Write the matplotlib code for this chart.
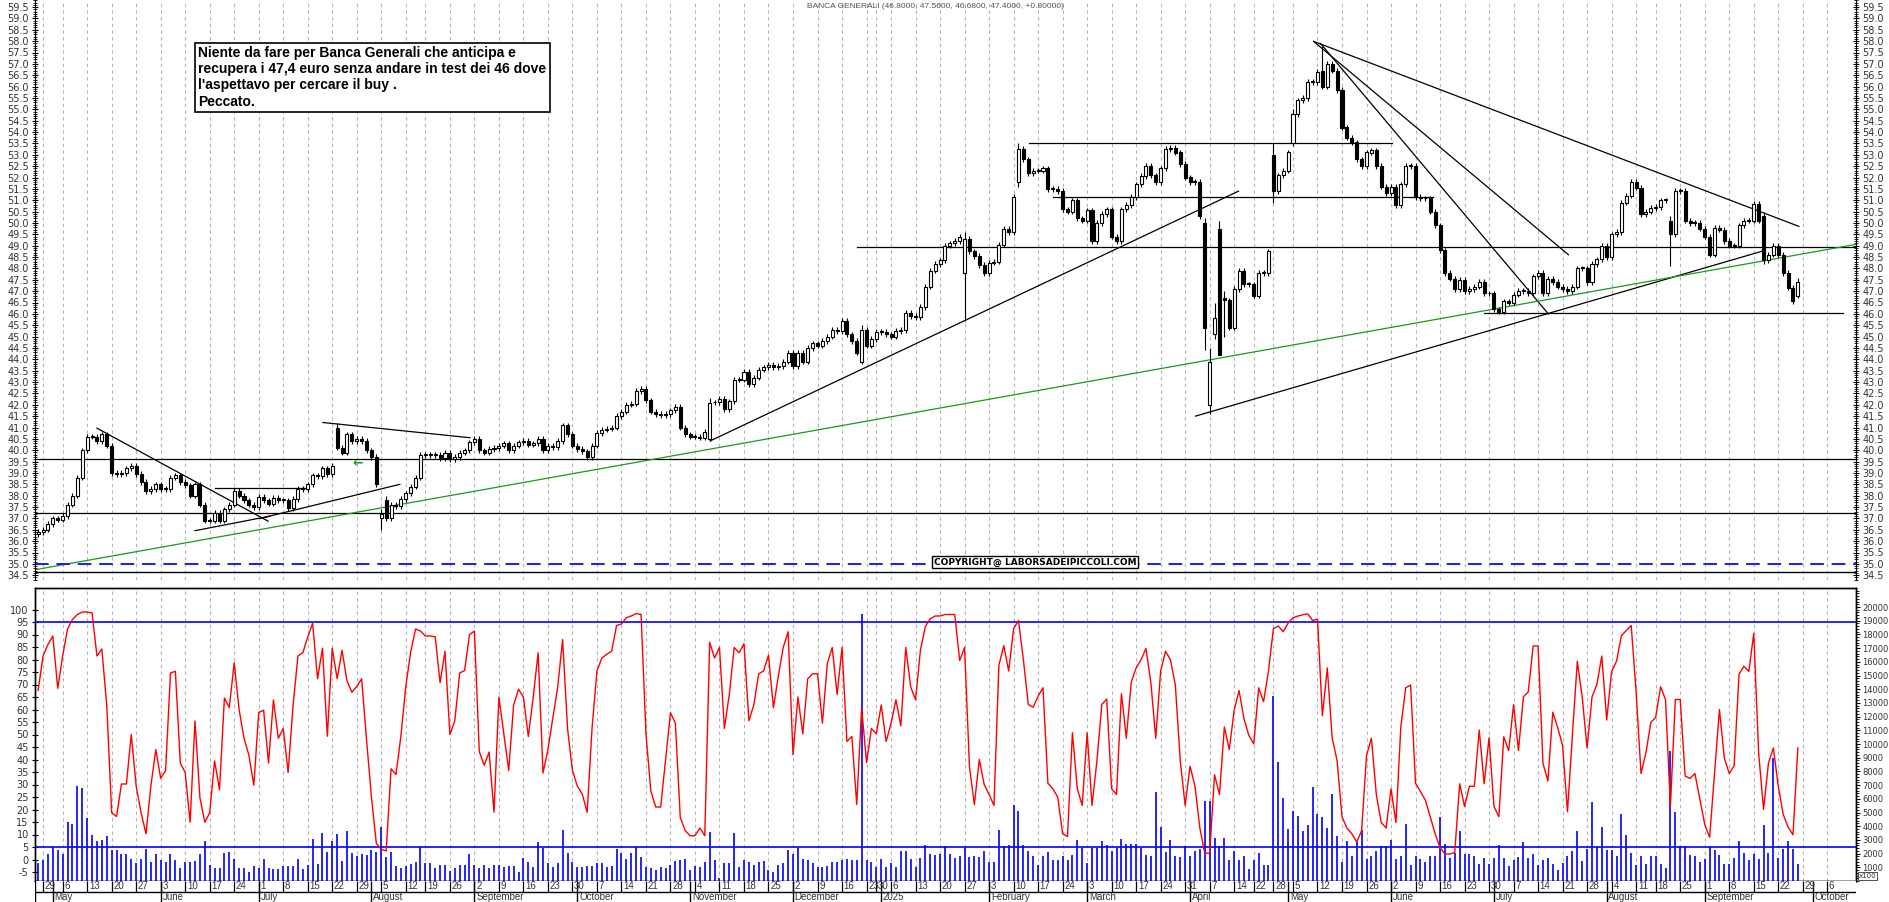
import numpy as np
import pandas as pd
import matplotlib
matplotlib.use("Agg")
import matplotlib.pyplot as plt
from matplotlib.ticker import MultipleLocator, FixedLocator

plt.rcParams["axes.unicode_minus"] = False

# ---------------- DATA ----------------
holidays = ["2024-05-01", "2024-08-15", "2024-12-24", "2024-12-25", "2024-12-26", "2024-12-31",
            "2025-01-01", "2025-04-18", "2025-04-21", "2025-05-01", "2025-08-15"]

close_2024 = [
    36.4,
    36.5, 36.76, 37.0, 36.95,
    37.1, 37.6, 38.0, 38.8, 40.0,
    40.6, 40.6, 40.4, 40.7, 40.2,
    39.0, 38.95, 39.0, 39.2, 39.3,
    38.95, 38.6, 38.2, 38.3, 38.5,
    38.3, 38.3, 38.8, 38.9, 38.6,
    38.45, 38.0, 38.5, 37.6, 36.9,
    36.9, 37.25, 36.9, 37.4, 37.6,
    38.2, 38.0, 37.8, 37.6, 37.5,
    37.95, 37.8, 37.65, 37.9, 37.8,
    37.8, 37.45, 37.85, 38.3, 38.3,
    38.5, 38.9, 38.85, 39.2, 38.95,
    39.3, 40.1, 39.9, 40.7, 40.4,
    40.5, 40.4, 40.0, 39.7, 38.5,
    37.2, 37.0, 37.6, 37.55, 37.85,
    38.1, 38.4, 38.8, 39.8,
    39.8, 39.8, 39.8, 39.65, 39.9,
    39.6, 39.7, 39.9, 40.0, 40.35,
    40.5, 40.0, 39.9, 40.05, 40.1,
    40.2, 40.3, 40.0, 40.2, 40.35,
    40.4, 40.25, 40.3, 40.5, 40.0,
    40.2, 40.15, 40.4, 41.1, 40.7,
    40.2, 40.05, 39.95, 39.7, 40.2,
    40.75, 40.9, 40.95, 41.0, 41.5,
    41.7, 42.0, 42.05, 42.6, 42.7,
    42.2, 41.7, 41.6, 41.55, 41.6,
    41.75, 41.9, 41.0, 40.7, 40.6,
    40.6, 40.55, 40.8, 42.1, 42.1,
    42.25, 41.8, 42.15, 43.1, 43.1,
    43.45, 42.9, 43.2, 43.55, 43.65,
    43.75, 43.65, 43.7, 43.9, 44.3,
    43.7, 44.3, 43.9, 44.5, 44.7,
    44.6, 44.8, 45.0, 45.3, 45.25,
    45.7, 45.1, 44.8, 44.3, 45.3,
    44.6, 44.9,
]
close_2025 = [
    45.2, 45.2, 45.1,
    45.0, 45.25, 45.3, 46.05, 45.9,
    45.85, 46.3, 47.2, 47.9, 48.2,
    48.35, 49.0, 49.1, 49.2, 49.4,
    49.3, 48.75, 48.55, 48.15, 47.8,
    48.26, 48.3, 49.05, 49.75, 49.6,
    51.15, 53.25, 52.8, 52.2, 52.3,
    52.3, 52.4, 51.5, 51.5, 51.4,
    50.6, 50.5, 51.0, 50.2, 50.1,
    50.55, 49.2, 50.0, 50.4, 50.6,
    49.4, 49.2, 50.6, 50.8, 51.15,
    51.7, 52.07, 52.5, 52.1, 51.8,
    52.4, 53.25, 53.3, 53.1, 52.6,
    52.0, 51.8, 51.8, 50.3, 45.4,
    43.9, 45.8, 44.2, 46.6, 45.4,
    47.1, 47.9, 47.3, 47.3,
    46.8, 47.8, 47.8, 48.75,
    51.4, 52.1, 52.3, 53.1,
    54.8, 55.4, 55.5, 56.2, 56.2,
    56.65, 56.0, 57.0, 56.7, 55.85,
    54.2, 53.75, 53.55, 52.8, 52.5,
    53.1, 53.2, 52.5, 51.6, 51.3,
    51.6, 50.8, 51.7, 52.5, 52.5,
    51.15, 51.08, 51.08, 50.5, 49.9,
    48.8, 47.8, 47.55, 47.1, 47.5,
    47.0, 47.1, 47.2, 47.4, 46.9,
    46.9, 46.2, 46.1, 46.55, 46.5,
    46.85, 47.0, 47.0, 46.9, 47.65,
    47.8, 46.9, 47.55, 47.4, 47.2,
    47.1, 47.0, 47.2, 48.0, 48.0,
    47.4, 48.2, 48.4, 49.0, 48.5,
    49.5, 49.6, 50.9, 51.2, 51.8,
    51.55, 50.4, 50.5, 50.65,
    50.7, 51.0, 51.0, 49.5, 51.4,
    51.4, 50.1, 50.0, 50.0, 49.75,
    49.4, 48.6, 49.8, 49.7, 49.2,
    49.0, 49.0, 49.9, 50.1, 50.1,
    50.85, 50.1, 48.35, 48.6, 49.0,
    48.6, 47.8, 47.15, 46.55, 47.4,
]
# candles whose open / high / low differ clearly from the default shape
candle_overrides = {  # date: (open, high, low)
    "2024-07-23": (41.0, 41.2, 40.0),
    "2024-08-05": (37.0, 37.4, 36.5),
    "2024-08-06": (37.8, 38.0, 36.9),
    "2024-11-07": (40.5, 42.3, 40.4),
    "2024-12-20": (43.9, 45.5, 43.8),
    "2025-01-27": (47.8, 49.6, 45.7),
    "2025-02-11": (51.8, 53.5, 51.6),
    "2025-04-04": (50.0, 50.2, 44.4),
    "2025-04-07": (42.0, 44.5, 41.6),
    "2025-04-08": (45.1, 46.5, 44.9),
    "2025-04-09": (49.75, 50.1, 46.4),
    "2025-04-10": (46.7, 47.0, 45.0),
    "2025-04-28": (53.0, 53.5, 50.9),
    "2025-05-05": (53.5, 55.0, 53.4),
    "2025-05-13": (56.7, 57.8, 55.9),
    "2025-08-21": (50.1, 50.3, 48.1),
    "2025-09-17": (50.3, 50.5, 48.2),
    "2025-09-26": (46.8, 47.56, 46.68),
}

osc_2024 = [
    67.7,
    81.4, 86, 89.4, 68.4,
    81.4, 92.2, 96, 98, 99,
    99, 98.6, 81.4, 84.2, 61.5,
    18.7, 17.2, 30.2, 30.2, 50,
    29.4, 18.7, 10.3, 29.4, 44,
    32.5, 35.5, 74.6, 75.3, 38.6,
    34.8, 14.9, 55.4, 24.8, 14.9,
    18.7, 39.4, 27.9, 64.6, 60.8,
    78.7, 60, 48.5, 41.7, 29.7,
    58.8, 59.7, 38.6, 63.8, 48.5,
    52.4, 34.8, 61.5, 81.4, 82.7,
    89, 94.5, 72.3, 84.5, 49.3,
    84.5, 72.3, 83.7, 71.5, 66.9,
    69.2, 72.3, 47.8, 24.8, 6.4,
    4.1, 3.4, 36.3, 34, 49.3,
    69.2, 83, 92.2, 91.4,
    89.4, 89.4, 89.1, 70.7, 83.3,
    50, 55.4, 74.6, 75.6, 89.9,
    91.4, 43.2, 37.7, 43, 18.9,
    65, 50.3, 35.6, 61.8, 68.1,
    65, 49.2, 65, 82.7, 34.6,
    44, 56.6, 69.1, 88, 52.4,
    35.6, 29.4, 26.2, 18.9, 52.4,
    75.4, 80.6, 82.1, 83.3, 93.6,
    94.2, 96.7, 97.4, 98.4, 98,
    50.3, 27.3, 21, 21, 39.8,
    58.7, 54.5, 16.8, 11.6, 9.5,
    9.5, 12.6, 9.5, 86.9, 80.6,
    84.8, 52.4, 66, 84.8, 82.7,
    86.3, 55.5, 61.8, 74.3, 75.4,
    81.7, 60.7, 73.3, 84.8, 91.1,
    41.9, 65, 50.3, 72.3, 74.3,
    74.3, 54.5, 78.5, 84.8, 66,
    84.8, 47.2, 49.2, 22, 60.7,
    38.8, 52.4,
]
osc_2025 = [
    50.3, 61.8, 47.2,
    54.5, 63.9, 53.4, 84.8, 69.1,
    63.9, 83.8, 93.2, 96.3, 97.4,
    97.4, 98, 98, 98, 79.6,
    84.8, 37, 22, 40, 30,
    26, 21.6, 77.7, 85.5, 75.4,
    92.3, 95.6, 79.9, 62, 60.9,
    65.3, 68.7, 30.5, 28.3, 25,
    10.3, 9.2, 50.7, 28.3, 21.6,
    50.7, 21.6, 39.5, 62, 64.2,
    28.3, 26, 66.4, 48.5, 70.9,
    76.6, 79.9, 84.4, 70.9, 48.5,
    75.4, 83.3, 79.9, 69.8, 39.5,
    21.6, 37.3, 29.4, 12.6, 2.5,
    2.5, 33.9, 26, 53, 44,
    59.7, 67.6, 56.3, 49.6,
    46.2, 68.7, 63.1, 75.4,
    92.3, 93.4, 91.1, 94.5,
    96.7, 97.4, 97.9, 98.3, 95.6,
    96.1, 57.5, 76.6, 48.5, 39.5,
    17.1, 12.6, 10.3, 7, 11.5,
    41.7, 48.5, 26, 14.8, 12.6,
    28.3, 14.8, 53, 68.7, 69.8,
    30.5, 27.2, 23.8, 17.1, 10.3,
    4.7, 2.2, 2.2, 2.8, 30.3,
    21.2, 29.3, 29.3, 51.8, 30.3,
    48.7, 21.2, 17.1, 49.1, 43.6,
    61.9, 43.6, 65, 67.1, 85.4,
    85.4, 38.5, 31.4, 58.9, 52.8,
    45.6, 19.1, 49.7, 79.3, 65,
    44.6, 65, 70.1, 81.4, 55.8,
    75.2, 79.3, 89.5, 91.6, 93.6,
    67.1, 34.4, 42.6, 54.8,
    56.9, 69.1, 64, 21.2, 64,
    64, 33.4, 32.4, 34.4, 24.2,
    14, 8.9, 34.4, 60, 40.5,
    34.4, 37.5, 74.2, 77.3, 75.2,
    90.5, 42.6, 20.1, 38.5, 44.6,
    29.3, 18.1, 13, 9.9, 44.6,
]

vol_2024 = [
    1340,
    1530, 1950, 2500, 2230,
    2000, 4300, 4130, 6900, 6800,
    4600, 3350, 2930, 3000, 3260,
    2230, 2230, 2000, 1950, 1620,
    1340, 1620, 2370, 1400, 1950,
    1530, 1400, 2000, 1530, 980,
    1400, 1400, 1450, 1950, 2930,
    1170, 980, 980, 2040, 2090,
    1620, 980, 980, 640, 1120,
    980, 1620, 980, 890, 890,
    1060, 1060, 1060, 1620, 840,
    1200, 3070, 1260, 3490, 2150,
    2930, 3400, 1480, 3680, 2040,
    1810, 2000, 1900, 2230, 2090,
    3960, 1730, 2150, 1060, 980,
    1060, 1260, 1400, 2500,
    1310, 1340, 980, 1170, 1170,
    700, 920, 1170, 1170, 1950,
    1170, 980, 1170, 980, 1200,
    1200, 1010, 1070, 1130, 630,
    1660, 1390, 1010, 2850, 2430,
    1320, 1010, 1320, 3690, 2080,
    1390, 1010, 1010, 1130, 1130,
    1320, 1320, 1010, 1130, 2350,
    2080, 1590, 2080, 2460, 1780,
    1010, 940, 820, 1010, 940,
    1200, 1470, 1510, 1590, 820,
    1130, 1010, 1390, 3610, 1510,
    250, 1280, 1280, 3500, 1010,
    1510, 1390, 1200, 1390, 1470,
    820, 630, 1200, 1320, 2270,
    1970, 2430, 1590, 1510, 1320,
    1010, 1010, 1130, 1390, 1390,
    1510, 1590, 1510, 1510, 19460,
    1510, 1390,
]
vol_2025 = [
    1010, 1590, 1010,
    1320, 1010, 2160, 2160, 1590,
    1010, 1700, 2650, 1970, 1890,
    1970, 2540, 1970, 1700, 1850,
    2430, 1780, 1850, 1780, 2220,
    1400, 1400, 3740, 2550, 2630,
    5580, 5090, 2630, 2220, 1810,
    1200, 1810, 2100, 1530, 1530,
    1810, 1530, 1900, 2960, 2430,
    1320, 2430, 2430, 2920, 2630,
    2220, 2430, 3040, 2720, 2720,
    2720, 2430, 1900, 1810, 6480,
    3940, 2140, 2960, 1810, 1730,
    2550, 1810, 2220, 2300, 5830,
    5830, 3160, 2550, 3160, 1530,
    2220, 1530, 1810, 910,
    1530, 2020, 1200, 1200,
    13480, 8690, 6070, 3770,
    5090, 4770, 3650, 4070, 6860,
    4880, 4680, 3860, 6320, 3250,
    1400, 2920, 1810, 2840, 3740,
    1610, 1810, 2220, 2550, 2550,
    2960, 1610, 1810, 4150, 1200,
    1810, 1610, 1400, 1810, 1810,
    4680, 2710, 1700, 2070, 3680,
    1960, 1960, 1820, 1260, 1700,
    1260, 1700, 2630, 1700, 1070,
    1520, 1780, 2820, 1700, 1960,
    1150, 1520, 1700, 1260, 770,
    1330, 1820, 2190, 3680, 1440,
    2340, 5790, 2450, 3930, 2260,
    2260, 1820, 4860, 3380, 2080,
    1150, 1820, 1260, 1820,
    1820, 1260, 960, 9520, 5050,
    2560, 2560, 1890, 1820, 1410,
    1630, 2450, 2260, 1890, 1260,
    1260, 1700, 2930, 2080, 1520,
    1960, 1630, 4120, 2080, 8950,
    1700, 2340, 2930, 2340, 1260,
]

# hand-drawn lines: (start bar, start price, end bar, end price, colour)
trend_lines = [
    (-0.64, 39.6, 370.9, 39.6, "black"),
    (-0.64, 37.25, 370.9, 37.25, "black"),
    (167.1, 48.95, 370.9, 48.95, "black"),
    (202.2, 53.5, 276.3, 53.5, "black"),
    (207.1, 51.13, 284.5, 51.13, "black"),
    (294.9, 46.05, 368.3, 46.05, "black"),
    (36.1, 38.36, 55.1, 38.36, "black"),
    (58.1, 41.22, 88.1, 40.55, "black"),
    (12.0, 40.97, 46.9, 36.88, "black"),
    (32.0, 36.46, 47.3, 37.1, "black"),
    (45.3, 37.0, 73.8, 38.5, "black"),
    (137.1, 40.41, 244.9, 51.4, "black"),
    (236.1, 41.5, 352.4, 48.8, "black"),
    (260.2, 57.99, 359.2, 49.85, "black"),
    (260.2, 57.99, 312.2, 48.6, "black"),
    (261.6, 57.9, 308.1, 46.0, "black"),
    (-0.64, 34.74, 370.9, 49.06, "#1a9a1a"),
]
support_dashed = 35.0
osc_levels = [95, 5]

title = "BANCA GENERALI (46.8000, 47.5600, 46.6800, 47.4000, +0.80000)"
note = ("Niente da fare per Banca Generali che anticipa e\n"
        "recupera i 47,4 euro senza andare in test dei 46 dove\n"
        "l'aspettavo per cercare il buy .\nPeccato.")
month_names = ["January", "February", "March", "April", "May", "June", "July",
               "August", "September", "October", "November", "December"]

# ---------------- PREP ----------------
dates = pd.bdate_range("2024-04-26", "2025-09-26")
dates = dates[~dates.isin(pd.to_datetime(holidays))]
closes = np.array(close_2024 + close_2025, dtype=float)
osc = np.array(osc_2024 + osc_2025, dtype=float)
vol = np.array(vol_2024 + vol_2025, dtype=float)
n = len(dates)
assert len(closes) == n and len(osc) == n and len(vol) == n, (n, len(closes), len(osc), len(vol))
opens = np.concatenate([[closes[0] - 0.1], closes[:-1]])
highs = np.maximum(opens, closes) + 0.12
lows = np.minimum(opens, closes) - 0.12
for ds, (o, h, l) in candle_overrides.items():
    k = dates.get_loc(pd.Timestamp(ds))
    opens[k], highs[k], lows[k] = o, h, l
idx = np.arange(n)

future = pd.bdate_range("2025-09-29", "2025-10-10")
all_dates = dates.append(future)

W, H = 1890, 902
fig = plt.figure(figsize=(W / 100, H / 100), dpi=100)
fig.patch.set_facecolor("white")
def rect(x0, y0, x1, y1):
    return [x0 / W, 1 - y1 / H, (x1 - x0) / W, (y1 - y0) / H]

XL = (-0.64, 370.86)
ax1 = fig.add_axes(rect(35, 0, 1856, 580))
ax2 = fig.add_axes(rect(35, 588, 1856, 881))
ax2o = ax2.twinx()
ax3 = fig.add_axes(rect(35, 881, 1856, 902))
for a in (ax1, ax2, ax2o, ax3):
    a.set_xlim(*XL)
ax1.set_ylim(34.29, 59.81)
ax2.set_ylim(0, 21387)
ax2o.set_ylim(-8.6, 108.6)
ax3.set_ylim(0, 1)

# week / month starts
week_starts, month_starts = [], []
for i in range(1, len(all_dates)):
    d, p = all_dates[i], all_dates[i - 1]
    if d.isocalendar()[1] != p.isocalendar()[1]:
        week_starts.append(i)
    if d.month != p.month:
        month_starts.append(i)

grid_kw = dict(color="#b4b4b4", lw=0.8, ls=(0, (3, 3)), zorder=0)
for i in week_starts:
    ax1.axvline(i, **grid_kw)
    ax2.axvline(i, **grid_kw)

# ---------------- PRICE PANEL ----------------
for x0, p0, x1, p1, c in trend_lines:
    ax1.plot([x0, x1], [p0, p1], color=c, lw=0.9, zorder=2)
ax1.axhline(support_dashed, color="#1a1aff", lw=1.4, ls=(0, (7, 4)), zorder=2)
ax1.axhline(34.64, color="black", lw=1.0, zorder=2)

up = closes >= opens
ax1.vlines(idx, lows, highs, color="black", lw=0.8, zorder=3)
body = np.maximum(np.abs(closes - opens), 0.04)
ax1.bar(idx[up], body[up], bottom=np.minimum(opens, closes)[up], width=0.62,
        color="white", edgecolor="black", linewidth=0.8, zorder=4)
ax1.bar(idx[~up], body[~up], bottom=np.minimum(opens, closes)[~up], width=0.62,
        color="black", edgecolor="black", linewidth=0.8, zorder=4)
ax1.text(65.1, 39.44, "\u2190", color="#1a9a1a", fontsize=9, fontweight="bold",
         ha="center", va="center", zorder=5)

ax1.spines["bottom"].set_visible(False)
ax1.spines["top"].set_visible(False)
ax1.set_xticks([])
ax1.yaxis.set_major_locator(FixedLocator(np.arange(34.5, 59.51, 0.5)))
ax1.yaxis.set_minor_locator(MultipleLocator(0.1))
ax1.set_yticklabels([f"{v:.1f}" for v in np.arange(34.5, 59.51, 0.5)])
ax1.tick_params(axis="y", which="both", left=True, right=True, labelleft=True,
                labelright=True, labelsize=7, labelcolor="#333333", direction="inout", pad=2)
ax1.tick_params(axis="y", which="major", length=5)
ax1.tick_params(axis="y", which="minor", length=3)

fig.text(935 / W, 1 - 7 / H, title, fontsize=6, color="#555555", ha="center", va="center",
         family="Liberation Sans")
fig.text(198 / W, 1 - 46 / H, note, fontsize=10, fontweight="bold", ha="left", va="top",
         family=["Liberation Sans Narrow", "Liberation Sans"], linespacing=1.2,
         bbox=dict(boxstyle="square,pad=0.25", fc="white", ec="black", lw=1.2))
fig.text(1035 / W, 1 - 562 / H, "COPYRIGHT@ LABORSADEIPICCOLI.COM", fontsize=6.5,
         fontweight="bold", ha="center", va="center", family="DejaVu Sans",
         bbox=dict(boxstyle="square,pad=0.15", fc="white", ec="black", lw=1.0), zorder=10)

# ---------------- OSCILLATOR / VOLUME PANEL ----------------
ax2.vlines(idx, 0, vol, color="#0000ff", lw=1.2, zorder=2)
for lv in osc_levels:
    ax2o.axhline(lv, color="#0000ff", lw=1.2, zorder=3)
ax2o.plot(idx, osc, color="#ff0000", lw=1.0, zorder=4)
ax2.set_xticks([])
ax2o.set_xticks([])
ax2.yaxis.tick_right()
ax2.set_yticks(np.arange(1000, 20001, 1000))
ax2.yaxis.set_minor_locator(MultipleLocator(200))
ax2.tick_params(axis="y", which="both", labelsize=6, labelcolor="#333333", pad=1.5, length=3)
ax2.tick_params(axis="y", which="minor", length=2)
ax2o.yaxis.tick_left()
ax2o.set_yticks(np.arange(-5, 101, 5))
ax2o.tick_params(axis="y", labelsize=7, labelcolor="#333333", direction="inout", length=5, pad=2)
for a in (ax2, ax2o):
    for s in a.spines.values():
        s.set_linewidth(1.0)
fig.text(1859 / W, 1 - 876 / H, "x100", fontsize=5, ha="left", va="center", color="#333333",
         bbox=dict(boxstyle="square,pad=0.1", fc="white", ec="#333333", lw=0.6))

# ---------------- DATE AXIS ----------------
for s in ax3.spines.values():
    s.set_visible(False)
ax3.set_xticks([]); ax3.set_yticks([])
ax3.axhline(0.5, color="black", lw=1.0)
ax3.axvline(XL[0] + 0.05, color="black", lw=1.0)
for i in week_starts:
    ax3.vlines(i, 0.5, 1, color="black", lw=0.9)
    ax3.text(i + 0.35, 0.74, str(all_dates[i].day), fontsize=7, color="#333333",
             ha="left", va="center", family="Liberation Sans")
for i in month_starts:
    d = all_dates[i]
    ax3.vlines(i, 0, 1, color="black", lw=1.0)
    lab = str(d.year) if d.month == 1 else month_names[d.month - 1]
    ax3.text(i + 0.35, 0.22, lab, fontsize=7, color="#333333", ha="left", va="center",
             family="Liberation Sans")

fig.savefig("out.png", dpi=100, facecolor="white")
